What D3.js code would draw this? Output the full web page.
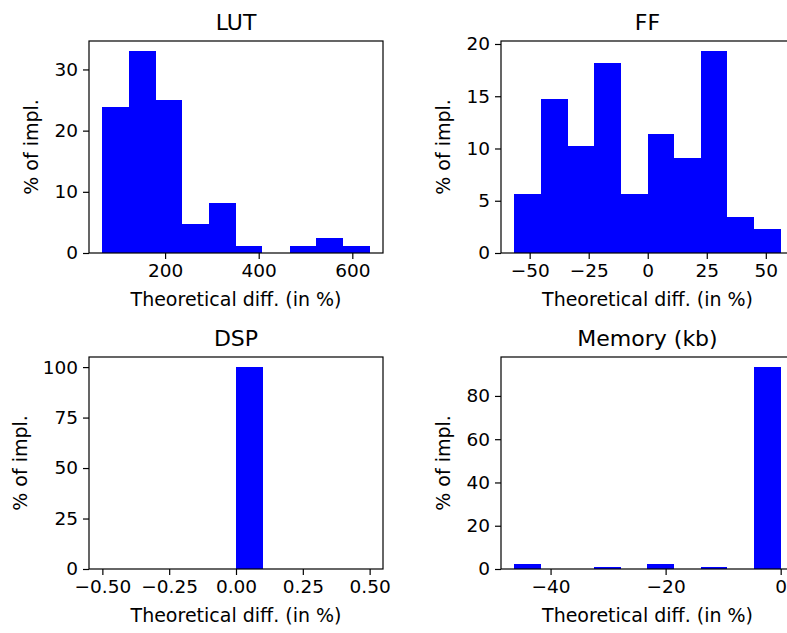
<!DOCTYPE html>
<html>
<head>
<meta charset="utf-8">
<script src="https://cdn.jsdelivr.net/npm/d3@7"></script>
<style>
  html, body { margin: 0; padding: 0; background: #fff; overflow: hidden; }
  svg { display: block; font-family: "DejaVu Sans", sans-serif; }
</style>
</head>
<body>
<svg id="chart" width="787" height="633"></svg>
<script>
// ---- data ----
const titles = ["LUT", "FF", "DSP", "Memory (kb)"];

const lutEdges  = [66, 123, 180, 237, 294, 351, 408, 466, 523, 580, 637];
const lutValues = [23.8, 33.0, 25.0, 4.8, 8.2, 1.2, 0, 1.2, 2.4, 1.2];
const lutXTicks = [200, 400, 600];
const lutXLabels = ["200", "400", "600"];
const lutYTicks = [0, 10, 20, 30];

const ffEdges  = [-56.5, -45.2, -33.9, -22.7, -11.4, -0.1, 11.2, 22.5, 33.7, 45.0, 56.3];
const ffValues = [5.68, 14.77, 10.23, 18.18, 5.68, 11.36, 9.09, 19.32, 3.41, 2.27];
const ffXTicks = [-50, -25, 0, 25, 50];
const ffXLabels = ["\u221250", "\u221225", "0", "25", "50"];
const ffYTicks = [0, 5, 10, 15, 20];

const dspEdges  = [-0.5, -0.4, -0.3, -0.2, -0.1, 0.0, 0.1, 0.2, 0.3, 0.4, 0.5];
const dspValues = [0, 0, 0, 0, 0, 100, 0, 0, 0, 0];
const dspXTicks = [-0.5, -0.25, 0, 0.25, 0.5];
const dspXLabels = ["\u22120.50", "\u22120.25", "0.00", "0.25", "0.50"];
const dspYTicks = [0, 25, 50, 75, 100];

const memEdges  = [-46.3, -41.7, -37.0, -32.4, -27.8, -23.2, -18.5, -13.9, -9.3, -4.6, 0];
const memValues = [2.22, 0, 0, 1.11, 0, 2.22, 0, 1.11, 0, 93.33];
const memXTicks = [-40, -20, 0];
const memXLabels = ["\u221240", "\u221220", "0"];
const memYTicks = [0, 20, 40, 60, 80];

const xLabelText = "Theoretical diff. (in %)";
const yLabelText = "% of impl.";

// ---- layout ----
const boxes = [
  {left: 89,  right: 383, top: 41,  bottom: 253},
  {left: 501, right: 794, top: 41,  bottom: 253},
  {left: 89,  right: 383, top: 357, bottom: 569},
  {left: 501, right: 794, top: 357, bottom: 569}
];
const TICK_FS = 18.5, LABEL_FS = 19, TITLE_FS = 22;

const panels = [
  {edges: lutEdges, values: lutValues, xt: lutXTicks, xl: lutXLabels, yt: lutYTicks},
  {edges: ffEdges,  values: ffValues,  xt: ffXTicks,  xl: ffXLabels,  yt: ffYTicks},
  {edges: dspEdges, values: dspValues, xt: dspXTicks, xl: dspXLabels, yt: dspYTicks},
  {edges: memEdges, values: memValues, xt: memXTicks, xl: memXLabels, yt: memYTicks}
];

const svg = d3.select("#chart");

panels.forEach((p, i) => {
  const b = boxes[i];
  const lo = p.edges[0], hi = p.edges[p.edges.length - 1];
  const span = hi - lo;
  const x = d3.scaleLinear().domain([lo - 0.05 * span, hi + 0.05 * span]).range([b.left, b.right]);
  const y = d3.scaleLinear().domain([0, d3.max(p.values) * 1.05]).range([b.bottom, b.top]);

  const g = svg.append("g");

  // bars
  const bins = p.values.map((v, k) => ({x0: p.edges[k], x1: p.edges[k + 1], v}));
  g.append("g").selectAll("rect")
    .data(bins.filter(d => d.v > 0))
    .join("rect")
    .attr("x", d => x(d.x0))
    .attr("width", d => x(d.x1) - x(d.x0))
    .attr("y", d => y(d.v))
    .attr("height", d => y(0) - y(d.v))
    .attr("fill", "#0000ff")
    .attr("shape-rendering", "crispEdges");

  // x axis
  const xa = g.append("g")
    .attr("transform", `translate(0,${b.bottom})`)
    .call(d3.axisBottom(x).tickValues(p.xt).tickFormat((d, k) => p.xl[k]).tickSize(6).tickPadding(5));
  // y axis
  const ya = g.append("g")
    .attr("transform", `translate(${b.left},0)`)
    .call(d3.axisLeft(y).tickValues(p.yt).tickFormat(d3.format("d")).tickSize(6).tickPadding(5));

  [xa, ya].forEach(a => {
    a.select(".domain").remove();
    a.selectAll(".tick line").attr("stroke", "#000").attr("stroke-width", 1.2);
    a.selectAll(".tick text").attr("fill", "#000").style("font-size", TICK_FS + "px")
      .style("font-family", "'DejaVu Sans', sans-serif");
  });

  // frame
  g.append("rect")
    .attr("x", b.left).attr("y", b.top)
    .attr("width", b.right - b.left).attr("height", b.bottom - b.top)
    .attr("fill", "none").attr("stroke", "#000").attr("stroke-width", 1.2);

  // title
  g.append("text")
    .attr("x", (b.left + b.right) / 2).attr("y", b.top - 11)
    .attr("text-anchor", "middle")
    .style("font-size", TITLE_FS + "px")
    .attr("fill", "#000")
    .text(titles[i]);

  // x label
  g.append("text")
    .attr("x", (b.left + b.right) / 2).attr("y", b.bottom + 53)
    .attr("text-anchor", "middle")
    .style("font-size", LABEL_FS + "px")
    .attr("fill", "#000")
    .text(xLabelText);

  // y label, placed left of widest tick label
  let maxW = 0;
  ya.selectAll(".tick text").each(function () { maxW = Math.max(maxW, this.getComputedTextLength()); });
  const yl = b.left - 11 - maxW - 16;
  g.append("text")
    .attr("transform", `translate(${yl},${(b.top + b.bottom) / 2}) rotate(-90)`)
    .attr("text-anchor", "middle")
    .style("font-size", LABEL_FS + "px")
    .attr("fill", "#000")
    .text(yLabelText);
});
</script>
</body>
</html>
